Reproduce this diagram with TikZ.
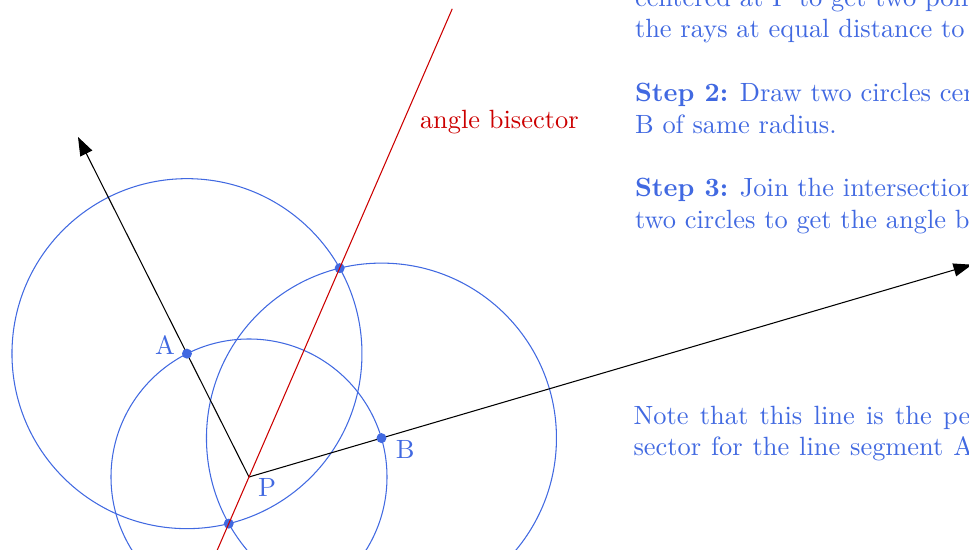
\documentclass[tikz,border=0pt]{standalone}
\usetikzlibrary{calc,arrows.meta}
\definecolor{cblue}{RGB}{65,105,225}
\definecolor{cred}{RGB}{204,0,0}
\begin{document}
\begin{tikzpicture}[x=0.3788pt, y=-0.3788pt,
  ray/.style={draw=black, line width=0.4pt, -{Triangle[length=7pt,width=5pt]}},
  circ/.style={draw=cblue, line width=0.4pt},
  dot/.style={fill=cblue},
  bis/.style={draw=cred, line width=0.4pt},
  lbl/.style={text=cblue, inner sep=0pt},
  txt/.style={text=cblue, inner sep=0pt, anchor=base west}]
\useasboundingbox (0,0) rectangle (969,550);
\clip (0,0) rectangle (969,550);
% points
\coordinate (P) at (249,477);
\coordinate (T1) at (78,137);
\coordinate (T2) at (972,264.7);
\coordinate (A) at ($(P)!52.3pt!(T1)$);
\coordinate (B) at ($(P)!52.3pt!(T2)$);
\coordinate (I1) at (228.74,523.66);
\coordinate (I2) at (339.66,268.17);
% circles
\draw[circ] (P) circle[radius=138];
\draw[circ] (A) circle[radius=175];
\draw[circ] (B) circle[radius=175];
% rays
\draw[ray] (P) -- (T1);
\draw[ray] (P) -- (T2);
% dots
\fill[dot] (A) circle[radius=5];
\fill[dot] (B) circle[radius=5];
\fill[dot] (I1) circle[radius=5];
\fill[dot] (I2) circle[radius=5];
% bisector
\coordinate (Btop) at ($(I1)!2.015!(I2)$);
\coordinate (Bbot) at ($(I1)!-1!(I2)$);
\draw[bis] (Bbot) -- (Btop);
% labels
\node[lbl, anchor=base east] (la) at ($(A)+(-11.5,1.3)$) {A};
\node[lbl, anchor=base west] (lb) at ($(B)+(13.8,20)$) {B};
\node[lbl, anchor=base west] (lp) at ($(P)+(8.7,19.7)$) {P};
\node[txt, text=cred] (lbis) at (419.5,128.3) {angle bisector};
% text
\node[txt] (s1a) at (634.5,6.3) {centered at P to get two points on};
\node[txt] (s1b) at (634.5,38) {the rays at equal distance to P.};
\node[txt] (s2a) at (634.5,101.4) {\textbf{Step 2:} Draw two circles centered at A and};
\node[txt] (s2b) at (634.5,133.1) {B of same radius.};
\node[txt] (s3a) at (634.5,196.5) {\textbf{Step 3:} Join the intersection points of the};
\node[txt] (s3b) at (634.5,228.2) {two circles to get the angle bisector.};
\node[txt] (n1) at (633,424.8) {{\spaceskip=4.3pt Note that this line is the perpendicular bi-}};
\node[txt] (n2) at (633,456) {{\spaceskip=3.75pt sector for the line segment AB.}};
\end{tikzpicture}
\end{document}
